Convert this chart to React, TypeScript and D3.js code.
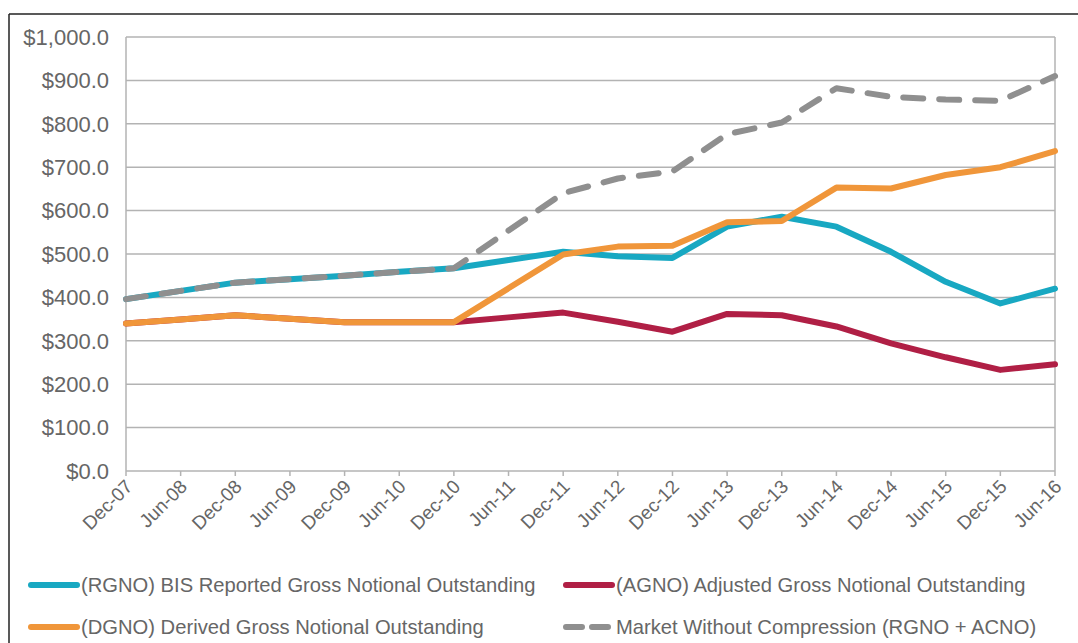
import React from 'react';
import * as d3 from 'd3';

const categories = [
  'Dec-07', 'Jun-08', 'Dec-08', 'Jun-09', 'Dec-09', 'Jun-10', 'Dec-10', 'Jun-11', 'Dec-11',
  'Jun-12', 'Dec-12', 'Jun-13', 'Dec-13', 'Jun-14', 'Dec-14', 'Jun-15', 'Dec-15', 'Jun-16',
];

const rgno = [396, 415, 434, 442, 450, 459, 467, 486, 505, 495, 491, 563, 586, 563, 505, 436, 386, 420];
const agno = [340, 349, 359, 351, 343, 343, 343, 354, 365, 344, 321, 362, 359, 333, 294, 262, 233, 246];
const dgno = [340, 349, 359, 351, 343, 343, 343, 421, 499, 517, 519, 573, 576, 653, 651, 682, 700, 737];
const market = [396, 415, 434, 442, 450, 459, 467, 554, 640, 674, 690, 776, 803, 882, 862, 856, 853, 910];

const yTicks = [0, 100, 200, 300, 400, 500, 600, 700, 800, 900, 1000];

// drawing order: later series sit on top
const seriesList = [
  { key: 'rgno', values: rgno, color: '#18a8c2', dash: '' },
  { key: 'agno', values: agno, color: '#b01f45', dash: '' },
  { key: 'dgno', values: dgno, color: '#f0963a', dash: '' },
  { key: 'market', values: market, color: '#8f8f8f', dash: '20 16' },
];

const legendItems = [
  { label: '(RGNO) BIS Reported Gross Notional Outstanding', color: '#18a8c2', dash: '', x: 31, y: 585 },
  { label: '(AGNO) Adjusted Gross Notional Outstanding', color: '#b01f45', dash: '', x: 566, y: 585 },
  { label: '(DGNO) Derived Gross Notional Outstanding', color: '#f0963a', dash: '', x: 31, y: 627 },
  { label: 'Market Without Compression (RGNO + ACNO)', color: '#8f8f8f', dash: '16 10', x: 566, y: 627 },
];

const W = 1078;
const H = 643;
const left = 126;
const right = 1055;
const top = 37;
const bottom = 471;
const font = '"Liberation Sans", Arial, sans-serif';
const textColor = '#666666';
const gridColor = '#b3b3b3';

const fmt = (v: number) => '$' + d3.format(',.1f')(v);

export default function App() {
  const x = d3.scalePoint<string>().domain(categories).range([left, right]);
  const y = d3.scaleLinear().domain([0, 1000]).range([bottom, top]);

  const line = d3.line<number>()
    .x((_, i) => x(categories[i])!)
    .y(d => y(d));

  return (
    <div style={{ position: 'fixed', left: 0, top: 0, width: W, height: H, background: '#fff' }}>
      <svg width={W} height={H} style={{ display: 'block' }}>
        {/* frame */}
        <line x1={9} x2={W} y1={14} y2={14} stroke="#222" strokeWidth={1.5} />
        <line x1={9} x2={9} y1={14} y2={H} stroke="#222" strokeWidth={1.5} />

        {/* grid */}
        {yTicks.map(t => (
          <g key={t}>
            <line x1={left} x2={right} y1={y(t)} y2={y(t)} stroke={gridColor} strokeWidth={1.5} />
            <text x={109} y={y(t)} dy="0.35em" textAnchor="end" fontFamily={font} fontSize={22} fill={textColor}>
              {fmt(t)}
            </text>
          </g>
        ))}
        <line x1={left} x2={left} y1={top} y2={bottom} stroke={gridColor} strokeWidth={1.5} />
        <line x1={right} x2={right} y1={top} y2={bottom} stroke={gridColor} strokeWidth={1.5} />

        {/* x axis ticks and labels */}
        {categories.map(c => (
          <g key={c} transform={`translate(${x(c)},${bottom})`}>
            <line y1={0} y2={5} stroke={gridColor} strokeWidth={1.5} />
            <text
              transform="translate(3,12) rotate(-45)"
              textAnchor="end"
              dy="0.35em"
              fontFamily={font}
              fontSize={19}
              fill={textColor}
            >
              {c}
            </text>
          </g>
        ))}

        {/* series */}
        {seriesList.map(s => (
          <path
            key={s.key}
            d={line(s.values)!}
            fill="none"
            stroke={s.color}
            strokeWidth={6}
            strokeDasharray={s.dash || undefined}
            strokeLinecap="round"
            strokeLinejoin="round"
          />
        ))}

        {/* legend */}
        {legendItems.map(l => (
          <g key={l.label}>
            <line
              x1={l.x}
              x2={l.x + 46}
              y1={l.y}
              y2={l.y}
              stroke={l.color}
              strokeWidth={6}
              strokeLinecap="round"
              strokeDasharray={l.dash || undefined}
            />
            <text x={l.x + 50} y={l.y} dy="0.35em" fontFamily={font} fontSize={20.2} fill={textColor}>
              {l.label}
            </text>
          </g>
        ))}
      </svg>
    </div>
  );
}
